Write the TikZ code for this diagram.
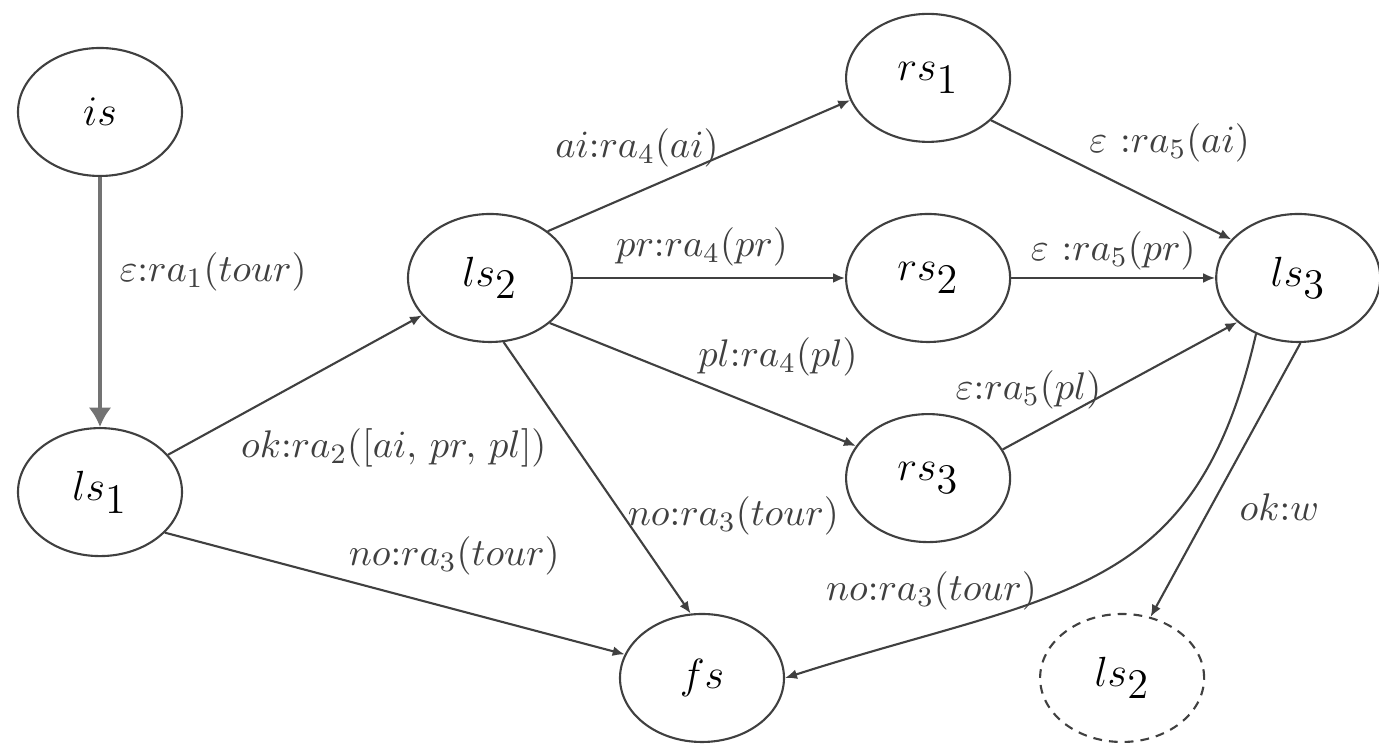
\documentclass[11pt,tikz,border=0pt]{standalone}
\usepackage{amsmath,amssymb}
\usepackage{xcolor}
\usepackage{tikz}
\usetikzlibrary{arrows.meta,positioning,shapes.geometric}

\begin{document}
\begin{tikzpicture}[
                state/.style={draw=black!75, ellipse, line width=0.6pt, minimum width=1.64cm, minimum height=1.28cm, inner sep=0pt, font=\large},
                ghost/.style={state, dash pattern=on 2.5pt off 2pt},
                trans/.style={-{Latex[length=3.4pt,width=2.8pt]}, line width=0.6pt, draw=black!75},
                starttrans/.style={trans, line width=1.1pt, draw=black!55, -{Latex[length=5.5pt,width=6.5pt]}},
                lbl/.style={inner sep=1pt, text=black!75}
            ]
            \useasboundingbox (0,0) rectangle (13.79,-7.46);
            \node[state] (is) at (1.00,-1.12) {$is$};
            \node[state, below=2.5cm of is] (ls1) {$ls_{\textstyle 1}$};
            \node[state] (ls2) at (4.90,-2.78) {$ls_{\textstyle 2}$};
            \node[state, right=2.72cm of ls2] (rs2) {$rs_{\textstyle 2}$};
            \node[state, above=0.7cm of rs2] (rs1) {$rs_{\textstyle 1}$};
            \node[state, below=0.7cm of rs2] (rs3) {$rs_{\textstyle 3}$};
            \node[state, right=2.04cm of rs2] (ls3) {$ls_{\textstyle 3}$};
            \node[state] (fs) at (7.02,-6.78) {$fs$};
            \node[ghost, right=2.54cm of fs] (ls2d) {$ls_{\textstyle 2}$};
            % left part
            \draw[starttrans] (is) -- node[lbl, pos=0.38, right=4pt] (l1) {$\varepsilon{:}ra_1(tour)$} (ls1);
            \draw[trans] (ls1) -- node[lbl, pos=0.27, anchor=north west, yshift=-2pt] (l2) {$ok{:}ra_2([ai,\,pr,\,pl])$} (ls2);
            \draw[trans] (ls1.-32) -- node[lbl, pos=0.39, anchor=south west] (l3) {$no{:}ra_3(tour)$} (fs.163);
            \draw[trans] (ls2.-78) -- node[lbl, pos=0.64, anchor=west] (l4) {$no{:}ra_3(tour)$} (fs.100);
            % ls2 to the r-states
            \draw[trans] (ls2.39) -- node[lbl, pos=0.58, anchor=east, yshift=2pt] (l5) {$ai{:}ra_4(ai)$} (rs1.196);
            \draw[trans] (ls2) -- node[lbl, midway, above=2pt, xshift=-2pt] (l6) {$pr{:}ra_4(pr)$} (rs2);
            \draw[trans] (ls2.-37) -- node[lbl, pos=0.47, anchor=south west] (l7) {$pl{:}ra_4(pl)$} (rs3.156);
            % r-states to ls3
            \draw[trans] (rs1.-34) -- node[lbl, pos=0.39, anchor=south west] (l8) {$\varepsilon\ {:}ra_5(ai)$} (ls3.150);
            \draw[trans] (rs2) -- node[lbl, midway, above=1pt] (l9) {$\varepsilon\ {:}ra_5(pr)$} (ls3);
            \draw[trans] (rs3.21) -- node[lbl, pos=0.44, anchor=east, yshift=1pt] (l10) {$\varepsilon{:}ra_5(pl)$} (ls3.216);
            % out of ls3
            \draw[trans] (ls3.233) .. controls (11.95,-6.00) and (10.60,-5.90) .. node[lbl, pos=0.62, anchor=east, yshift=2.5pt] (l11) {$no{:}ra_3(tour)$} (fs.east);
            \draw[trans] (ls3.272) -- node[lbl, pos=0.6, right=7pt] (l12) {$ok{:}w$} (ls2d.65);
        \end{tikzpicture}
\end{document}
